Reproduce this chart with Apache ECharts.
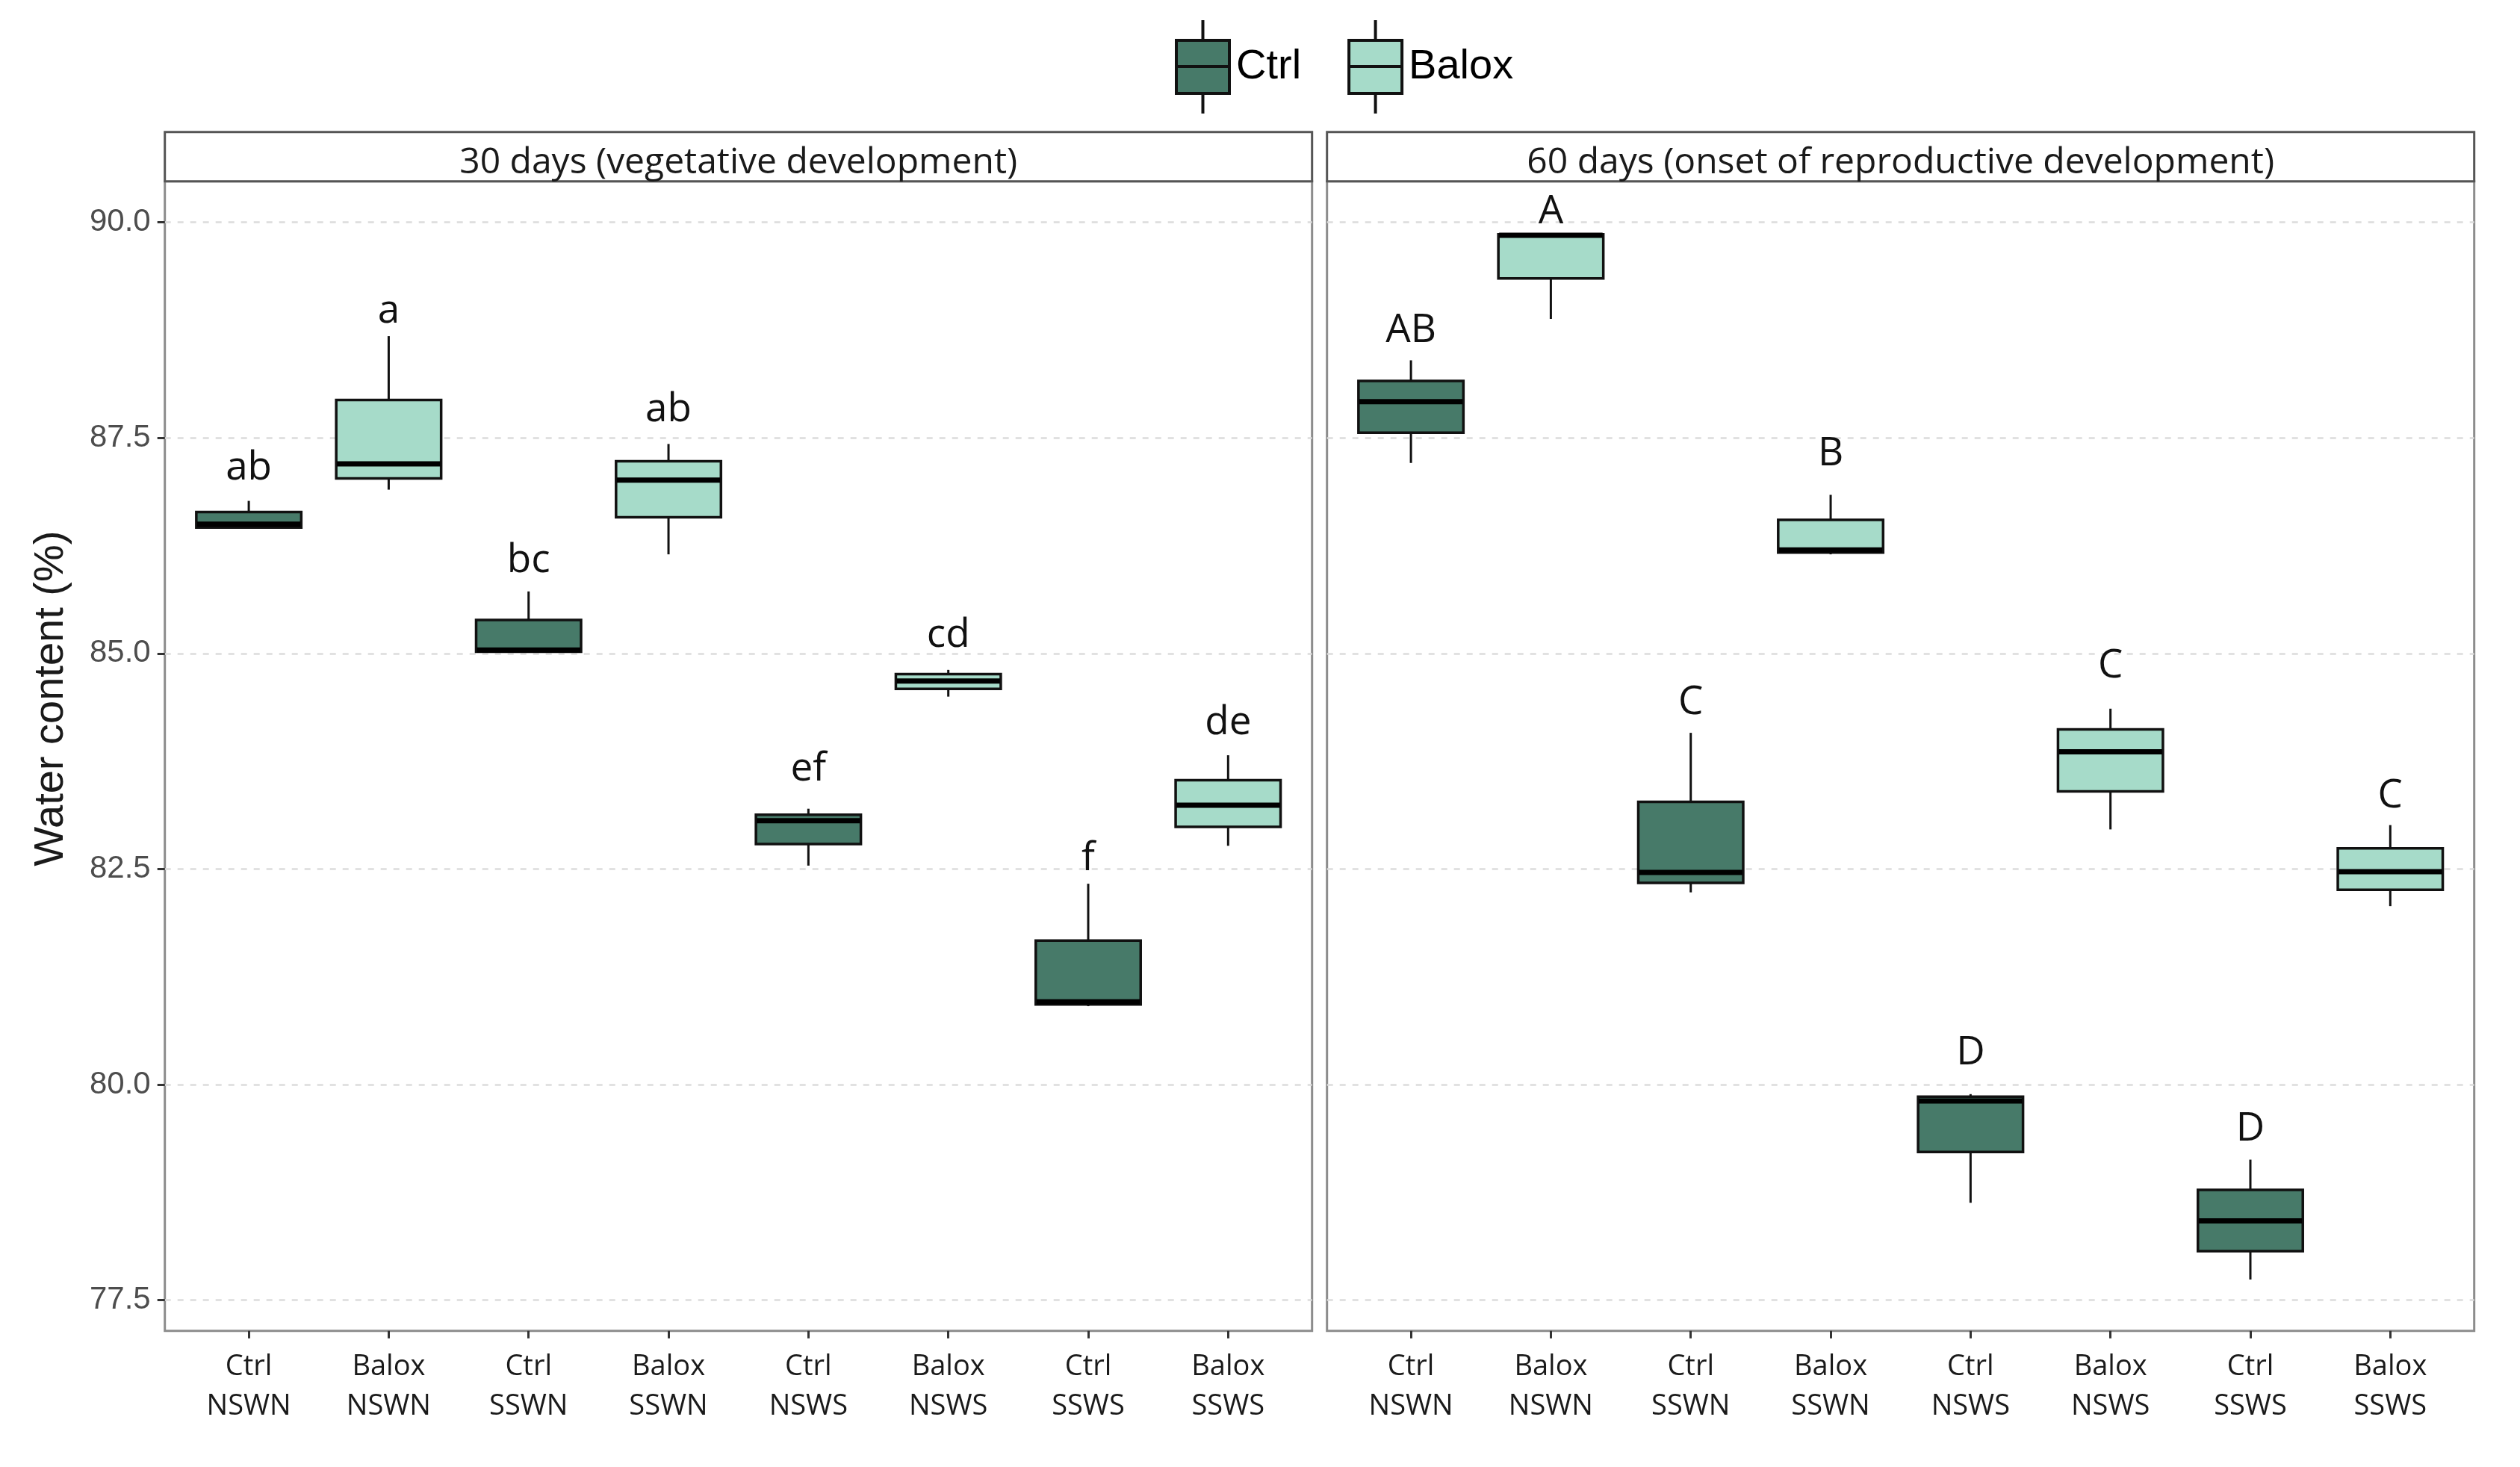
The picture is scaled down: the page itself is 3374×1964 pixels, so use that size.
<!DOCTYPE html>
<html>
<head>
<meta charset="utf-8">
<script src="https://cdn.jsdelivr.net/npm/echarts/dist/echarts.min.js"></script>
<style>
  html, body { margin: 0; padding: 0; background: #ffffff; }
  #chart { width: 3374px; height: 1964px; }
</style>
</head>
<body>
<div id="chart"></div>
<script>
// ---------------- DATA ----------------
const categories = ['Ctrl\nNSWN', 'Balox\nNSWN', 'Ctrl\nSSWN', 'Balox\nSSWN',
                    'Ctrl\nNSWS', 'Balox\nNSWS', 'Ctrl\nSSWS', 'Balox\nSSWS'];
const treatments = ['Ctrl', 'Balox', 'Ctrl', 'Balox', 'Ctrl', 'Balox', 'Ctrl', 'Balox'];
const panelTitles = ['30 days (vegetative development)', '60 days (onset of reproductive development)'];
const yTicks = [77.5, 80.0, 82.5, 85.0, 87.5, 90.0];

// [min, Q1, median, Q3, max]
const day30Stats = [
  [86.45, 86.46, 86.50, 86.64, 86.77],
  [86.90, 87.03, 87.20, 87.94, 88.68],
  [85.02, 85.02, 85.04, 85.39, 85.72],
  [86.15, 86.58, 87.01, 87.23, 87.43],
  [82.54, 82.79, 83.06, 83.13, 83.20],
  [84.50, 84.59, 84.68, 84.76, 84.81],
  [80.91, 80.93, 80.96, 81.67, 82.33],
  [82.77, 82.99, 83.24, 83.53, 83.82]
];
const day60Stats = [
  [87.21, 87.56, 87.92, 88.16, 88.40],
  [88.88, 89.35, 89.85, 89.86, 89.86],
  [82.23, 82.34, 82.46, 83.28, 84.08],
  [86.15, 86.17, 86.20, 86.55, 86.84],
  [78.63, 79.22, 79.81, 79.86, 79.89],
  [82.96, 83.40, 83.86, 84.12, 84.36],
  [77.74, 78.07, 78.42, 78.78, 79.13],
  [82.07, 82.26, 82.47, 82.74, 83.01]
];
const day30Letters = ['ab', 'a', 'bc', 'ab', 'ef', 'cd', 'f', 'de'];
const day60Letters = ['AB', 'A', 'C', 'B', 'D', 'C', 'D', 'C'];
// value (y) at which each letter's baseline sits
const day30LetterY = [87.03, 88.85, 85.95, 87.70, 83.54, 85.09, 82.50, 84.07];
const day60LetterY = [88.62, 90.00, 84.31, 87.19, 80.24, 84.73, 79.36, 83.22];

const colors = { Ctrl: '#477A69', Balox: '#A6DBC9' };

// ---------------- LAYOUT ----------------
const W = 3374, H = 1964;
const panelLeft = [220.7, 1776.7];
const panelW = 1536;
const frameTop = 242.7, frameBottom = 1781.7;
const y90 = 297.7, y775 = 1740.7;
const stripTop = 176.7;
const band = panelW / 8.2;            // ggplot discrete expansion 0.6
const dataOffset = 0.1 * band;

const grids = [], xAxes = [], yAxes = [], series = [], titles = [], graphics = [];

function boxRenderer(letters) {
  return function (params, api) {
    const x = api.value(0);
    const pMin = api.coord([x, api.value(1)]);
    const pQ1 = api.coord([x, api.value(2)]);
    const pMed = api.coord([x, api.value(3)]);
    const pQ3 = api.coord([x, api.value(4)]);
    const pMax = api.coord([x, api.value(5)]);
    const pLab = api.coord([x, api.value(6)]);
    const w = api.size([1, 0])[0] * 0.75;
    const cx = pMin[0];
    return {
      type: 'group',
      children: [
        { type: 'line', shape: { x1: cx, y1: pMax[1], x2: cx, y2: pQ3[1] }, style: { stroke: '#111', lineWidth: 3 } },
        { type: 'line', shape: { x1: cx, y1: pQ1[1], x2: cx, y2: pMin[1] }, style: { stroke: '#111', lineWidth: 3 } },
        { type: 'rect', shape: { x: cx - w / 2, y: pQ3[1], width: w, height: pQ1[1] - pQ3[1] },
          style: { fill: api.visual('color'), stroke: '#111', lineWidth: 3.5 } },
        { type: 'line', shape: { x1: cx - w / 2 + 1, y1: pMed[1], x2: cx + w / 2 - 1, y2: pMed[1] },
          style: { stroke: '#000', lineWidth: 7 } },
        { type: 'text', x: cx, y: pLab[1] - 14,
          style: { text: letters[api.value(7)], fill: '#111', fontSize: 53, fontFamily: 'Open Sans',
                   align: 'center', verticalAlign: 'middle' } }
      ]
    };
  };
}

const panels = [
  { stats: day30Stats, letters: day30Letters, letterY: day30LetterY },
  { stats: day60Stats, letters: day60Letters, letterY: day60LetterY }
];

panels.forEach(function (p, pi) {
  const L = panelLeft[pi];
  const g0 = grids.length;
  // frame grid
  grids.push({ left: L, top: frameTop, width: panelW, height: frameBottom - frameTop,
               show: true, borderColor: '#8c8c8c', borderWidth: 3, backgroundColor: 'transparent' });
  // y grid (tick lines & labels)
  grids.push({ left: L, top: y90, width: panelW, height: y775 - y90 });
  // data grid
  grids.push({ left: L + dataOffset, top: y90, width: 8 * band, height: y775 - y90 });

  xAxes.push({ gridIndex: g0, type: 'value', show: false, min: 0, max: 1 });
  yAxes.push({ gridIndex: g0, type: 'value', show: false, min: 0, max: 1 });

  xAxes.push({ gridIndex: g0 + 1, type: 'value', show: false, min: 0, max: 1 });
  yAxes.push({
    gridIndex: g0 + 1, type: 'value', min: yTicks[0], max: yTicks[yTicks.length - 1], interval: 2.5,
    axisLine: { show: false },
    axisTick: { show: pi === 0, length: 10, lineStyle: { color: '#333', width: 3 } },
    axisLabel: { show: pi === 0, margin: 19, fontSize: 42, fontFamily: 'Liberation Sans', color: '#4d4d4d',
                 formatter: function (v) { return v.toFixed(1); } },
    splitLine: { show: true, lineStyle: { color: '#dcdcdc', width: 2.5, type: [8, 9] } },
    name: pi === 0 ? 'Water content (%)' : '',
    nameLocation: 'middle', nameRotate: 90, nameGap: 124,
    nameTextStyle: { fontSize: 56, fontFamily: 'Liberation Sans', color: '#1a1a1a', padding: [0, 0, 0, 168] }
  });

  xAxes.push({
    gridIndex: g0 + 2, type: 'category', data: categories, offset: frameBottom - y775,
    axisLine: { show: false },
    axisTick: { show: true, alignWithLabel: true, length: 10, lineStyle: { color: '#333', width: 3 } },
    axisLabel: { margin: 22, fontSize: 38, lineHeight: 53, fontFamily: 'Open Sans', color: '#1a1a1a', interval: 0 },
    splitLine: { show: false }
  });
  yAxes.push({ gridIndex: g0 + 2, type: 'value', show: false, min: yTicks[0], max: yTicks[yTicks.length - 1] });

  ['Ctrl', 'Balox'].forEach(function (t) {
    const rows = [];
    p.stats.forEach(function (s, i) {
      if (treatments[i] === t) rows.push([i, s[0], s[1], s[2], s[3], s[4], p.letterY[i], i]);
    });
    series.push({
      name: t, type: 'custom', xAxisIndex: g0 + 2, yAxisIndex: g0 + 2,
      itemStyle: { color: colors[t], borderColor: '#111', borderWidth: 3.5 },
      encode: { x: 0, y: [1, 2, 3, 4, 5, 6] },
      renderItem: boxRenderer(p.letters),
      data: rows, clip: false, z: 3
    });
  });

  graphics.push({ type: 'rect', shape: { x: L, y: stripTop, width: panelW, height: frameTop - stripTop },
                  style: { fill: '#ffffff', stroke: '#555', lineWidth: 3 }, z: 1 });
  titles.push({ text: panelTitles[pi], left: L + panelW / 2, top: 194, textAlign: 'center', padding: 0,
                textStyle: { fontFamily: 'Open Sans', fontSize: 48, lineHeight: 48, fontWeight: 'normal', color: '#1a1a1a' } });
});

const legendIcon = 'path://M35.5,0L35.5,27M0,27L71,27L71,98L0,98ZM0,62L71,62M35.5,98L35.5,125';

const option = {
  animation: false,
  backgroundColor: '#ffffff',
  title: titles,
  graphic: graphics,
  legend: {
    left: 1568, top: 20, itemWidth: 71, itemHeight: 125, itemGap: 62,
    textStyle: { fontSize: 56, fontFamily: 'Liberation Sans', color: '#000', padding: [0, 0, 0, 4] },
    data: [
      { name: 'Ctrl', icon: legendIcon, itemStyle: { color: colors.Ctrl, borderColor: '#111', borderWidth: 4 } },
      { name: 'Balox', icon: legendIcon, itemStyle: { color: colors.Balox, borderColor: '#111', borderWidth: 4 } }
    ]
  },
  grid: grids,
  xAxis: xAxes,
  yAxis: yAxes,
  series: series
};

const chart = echarts.init(document.getElementById('chart'), null, { width: W, height: H });
chart.setOption(option);
</script>
</body>
</html>
